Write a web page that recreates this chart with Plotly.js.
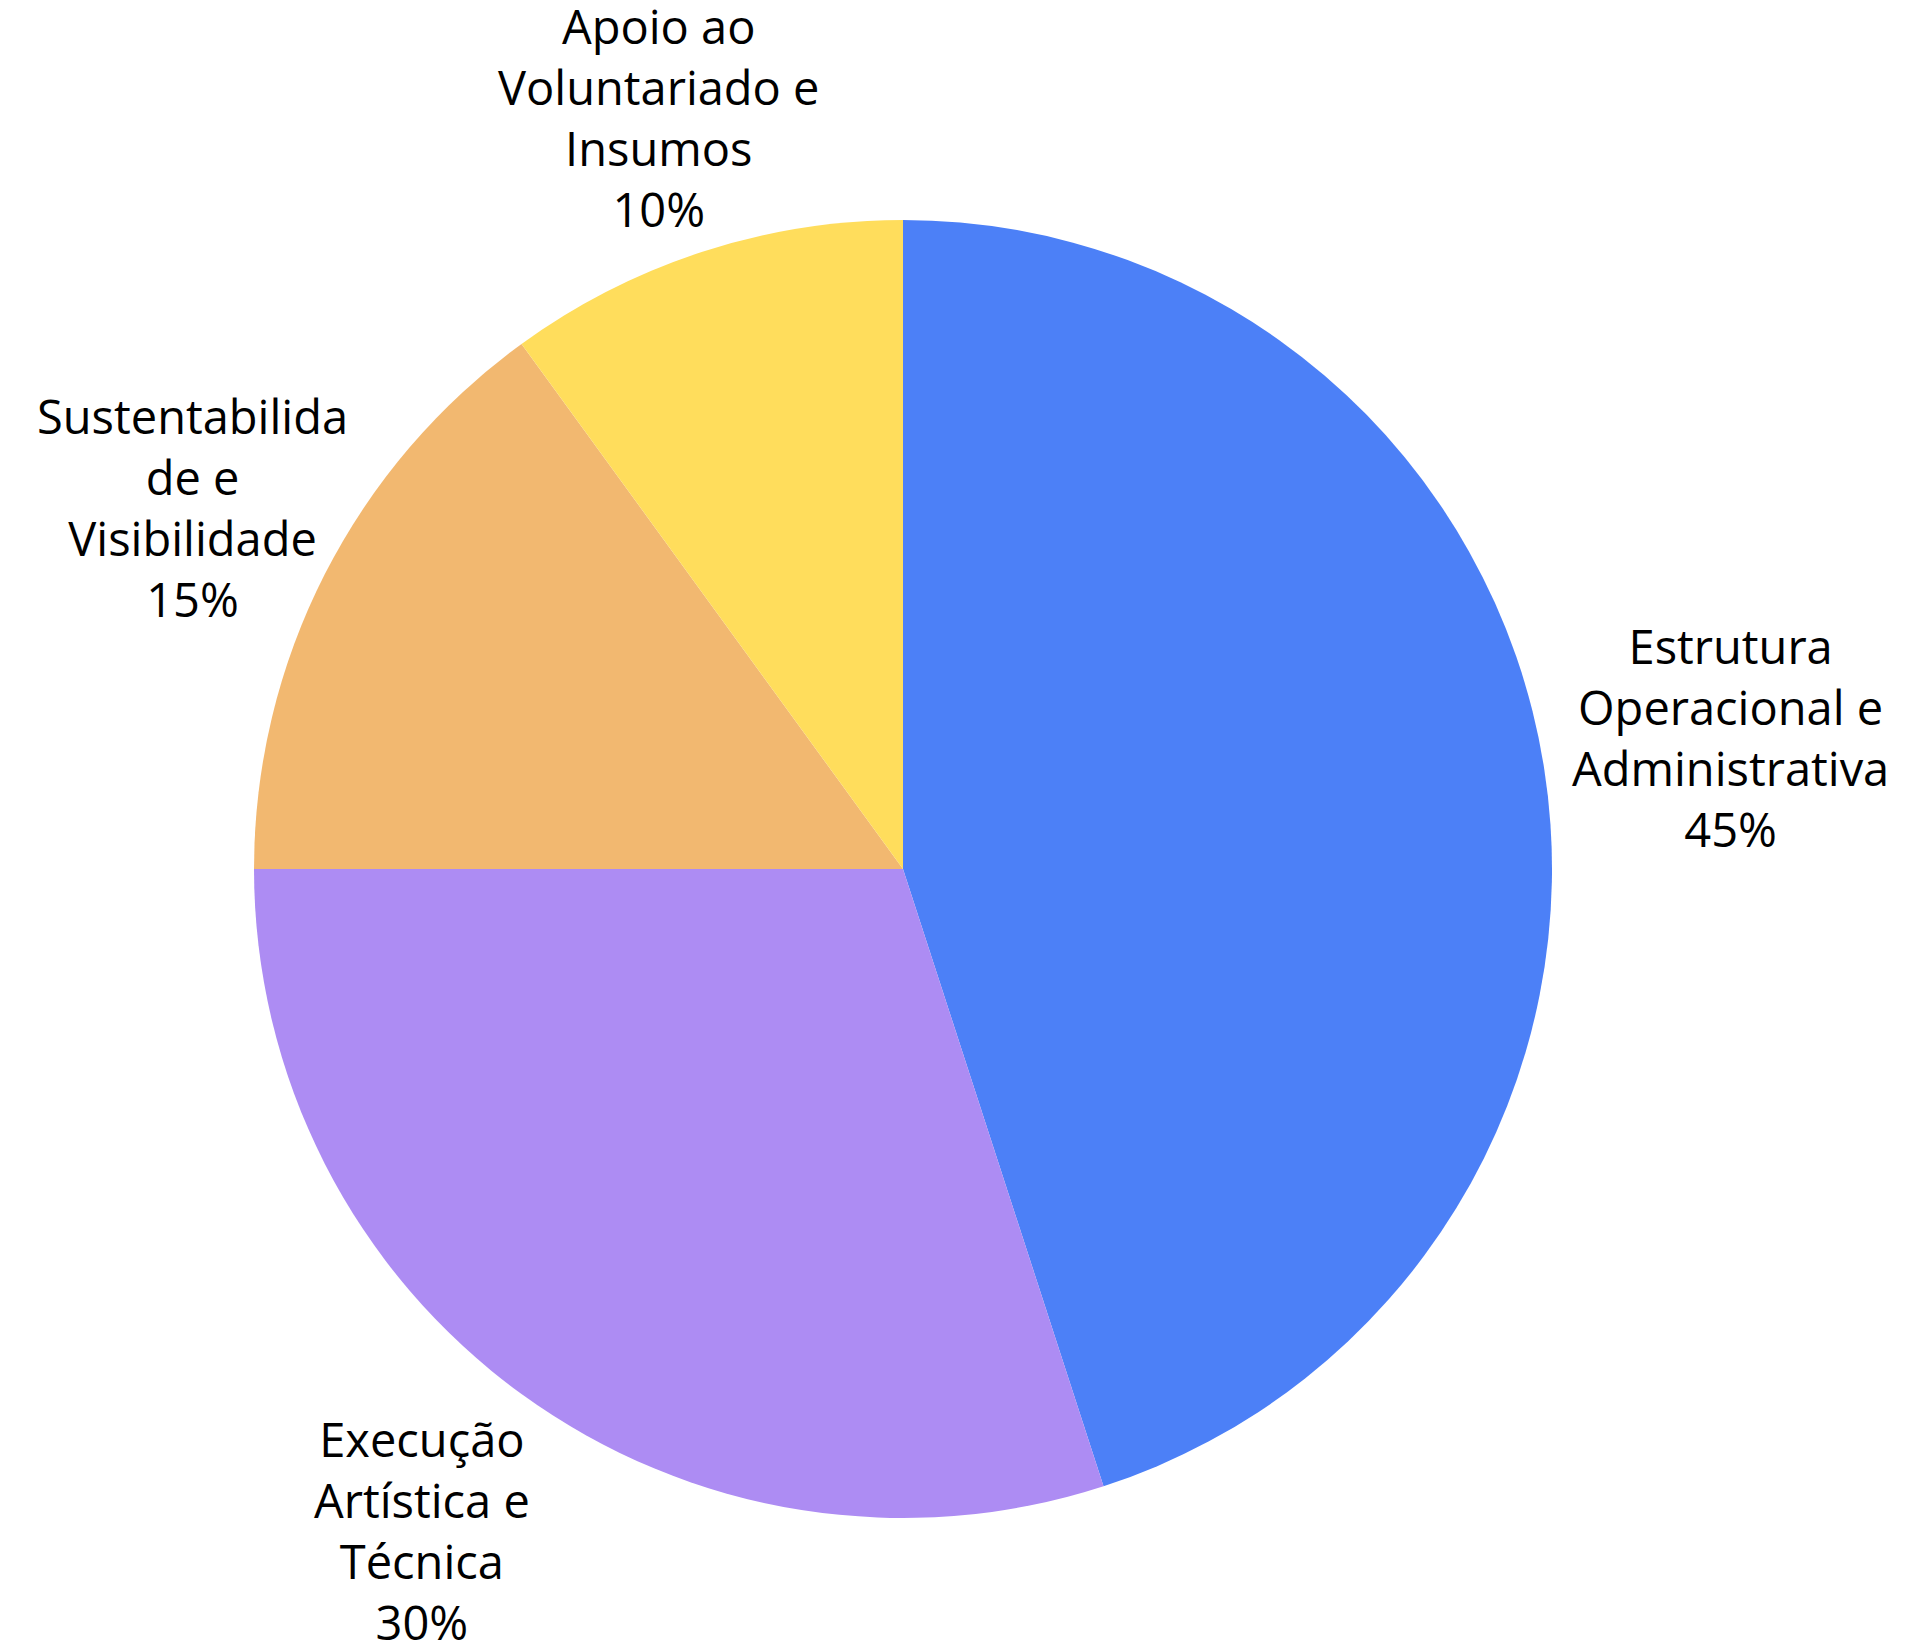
<!DOCTYPE html>
<html>
<head>
<meta charset="utf-8">
<script src="https://cdn.plot.ly/plotly-3.0.1.min.js"></script>
<style>html,body{margin:0;padding:0;background:#fff;}</style>
</head>
<body>
<div id="chart" style="width:1906px;height:1640px;"></div>
<script>
const categories = [
  "Estrutura Operacional e Administrativa",
  "Execução Artística e Técnica",
  "Sustentabilidade e Visibilidade",
  "Apoio ao Voluntariado e Insumos"
];
const wrappedLabels = [
  "Estrutura<br>Operacional e<br>Administrativa",
  "Execução<br>Artística e<br>Técnica",
  "Sustentabilida<br>de e<br>Visibilidade",
  "Apoio ao<br>Voluntariado e<br>Insumos"
];
const values = [45, 30, 15, 10];
const colors = ["#4C80F7", "#AD8CF3", "#F2B870", "#FFDD5C"];

const W = 1906, H = 1640;
const cx = 903, cy = 869, r = 649;
// label centre distance beyond the rim, as a fraction of the radius (grows with slice share)
const gapBase = 0.197, gapPerShare = 0.209;
const labelFont = {family: "'Open Sans', Roboto, sans-serif", size: 47, color: "#000"};

const total = values.reduce((a, b) => a + b, 0);
let cum = 0;
const annotations = values.map((v, i) => {
  const share = v / total;
  const mid = (cum + v / 2) / total * 2 * Math.PI;
  cum += v;
  const d = r * (1 + gapBase + gapPerShare * share);
  const px = cx + Math.sin(mid) * d;
  const py = cy - Math.cos(mid) * d;
  return {
    xref: "paper", yref: "paper",
    x: px / W, y: 1 - py / H,
    xanchor: "center", yanchor: "middle",
    align: "center",
    showarrow: false,
    text: wrappedLabels[i] + "<br>" + Math.round(share * 100) + "%",
    font: labelFont
  };
});

Plotly.newPlot("chart", [{
  type: "pie",
  labels: categories,
  values: values,
  textinfo: "none",
  sort: false,
  direction: "clockwise",
  rotation: 0,
  marker: {colors: colors, line: {width: 0}},
  automargin: false,
  domain: {x: [(cx - r) / W, (cx + r) / W], y: [(H - (cy + r)) / H, (H - (cy - r)) / H]},
  hoverinfo: "label+percent"
}], {
  width: W, height: H,
  margin: {l: 0, r: 0, t: 0, b: 0},
  showlegend: false,
  paper_bgcolor: "#fff",
  annotations: annotations,
  font: {family: "'Open Sans', sans-serif", color: "#000"}
}, {staticPlot: true});
</script>
</body>
</html>
